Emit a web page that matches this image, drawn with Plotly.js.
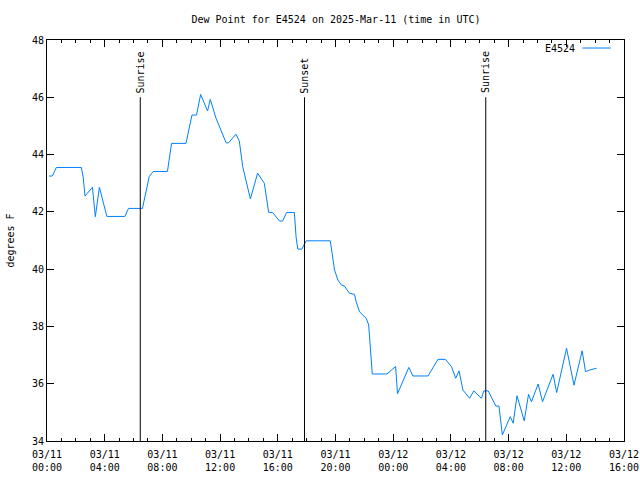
<!DOCTYPE html>
<html>
<head>
<meta charset="utf-8">
<script src="https://cdn.plot.ly/plotly-3.0.1.min.js"></script>
<style>html,body{margin:0;padding:0;background:#fff;}#chart{width:640px;height:480px;}</style>
</head>
<body>
<div id="chart"></div>
<script>
// ---- data ----
const times = [
 "2025-03-11 00:08","2025-03-11 00:22","2025-03-11 00:39","2025-03-11 02:23","2025-03-11 02:31",
 "2025-03-11 02:38","2025-03-11 02:48","2025-03-11 03:09","2025-03-11 03:21","2025-03-11 03:38",
 "2025-03-11 04:09","2025-03-11 05:24","2025-03-11 05:39","2025-03-11 06:37","2025-03-11 07:05",
 "2025-03-11 07:22","2025-03-11 08:21","2025-03-11 08:30","2025-03-11 08:38","2025-03-11 09:38",
 "2025-03-11 10:03","2025-03-11 10:22","2025-03-11 10:39","2025-03-11 11:08","2025-03-11 11:19",
 "2025-03-11 11:43","2025-03-11 12:04","2025-03-11 12:25","2025-03-11 12:35","2025-03-11 13:06",
 "2025-03-11 13:20","2025-03-11 13:34","2025-03-11 14:06","2025-03-11 14:36","2025-03-11 15:04",
 "2025-03-11 15:22","2025-03-11 15:38","2025-03-11 16:07","2025-03-11 16:20","2025-03-11 16:37",
 "2025-03-11 17:09","2025-03-11 17:16","2025-03-11 17:23","2025-03-11 17:40","2025-03-11 17:58",
 "2025-03-11 19:38","2025-03-11 19:46","2025-03-11 19:56","2025-03-11 20:10","2025-03-11 20:24",
 "2025-03-11 20:37","2025-03-11 20:58","2025-03-11 21:19","2025-03-11 21:26","2025-03-11 21:40",
 "2025-03-11 22:08","2025-03-11 22:18","2025-03-11 22:25","2025-03-11 22:33","2025-03-11 23:34",
 "2025-03-12 00:10","2025-03-12 00:18","2025-03-12 01:05","2025-03-12 01:22","2025-03-12 02:25",
 "2025-03-12 03:06","2025-03-12 03:37","2025-03-12 04:02","2025-03-12 04:20","2025-03-12 04:34",
 "2025-03-12 04:50","2025-03-12 05:18","2025-03-12 05:35","2025-03-12 06:07","2025-03-12 06:17",
 "2025-03-12 06:35","2025-03-12 07:07","2025-03-12 07:20","2025-03-12 07:34","2025-03-12 08:07",
 "2025-03-12 08:19","2025-03-12 08:35","2025-03-12 09:05","2025-03-12 09:23","2025-03-12 09:35",
 "2025-03-12 10:03","2025-03-12 10:21","2025-03-12 11:05","2025-03-12 11:20","2025-03-12 12:01",
 "2025-03-12 12:32","2025-03-12 13:06","2025-03-12 13:20","2025-03-12 13:38","2025-03-12 14:06"
];
const dewPoint = [
 43.25,43.25,43.55,43.55,43.18,
 42.55,42.65,42.86,41.83,42.86,
 41.84,41.84,42.12,42.12,43.23,
 43.41,43.41,44.04,44.39,44.39,
 45.38,45.38,46.10,45.52,45.93,
 45.27,44.86,44.41,44.41,44.71,
 44.47,43.58,42.45,43.35,43.00,
 41.98,41.98,41.68,41.68,41.98,
 41.98,41.13,40.70,40.70,40.99,
 40.99,40.55,39.97,39.62,39.45,
 39.41,39.16,39.12,38.86,38.51,
 38.28,38.05,37.29,36.34,36.34,
 36.60,35.65,36.57,36.27,36.27,
 36.85,36.85,36.60,36.19,36.45,
 35.78,35.49,35.75,35.49,35.75,
 35.75,35.22,35.22,34.21,34.85,
 34.62,35.58,34.70,35.63,35.37,
 35.99,35.37,36.33,35.69,37.24,
 35.95,37.15,36.42,36.48,36.54
];
const seriesName = "E4524";
const sunEventTimes = ["2025-03-11 06:28","2025-03-11 17:51","2025-03-12 06:25"];
const sunEventLabels = ["Sunrise","Sunset","Sunrise"];
const sunLineTop = 46;
const tickVals = ["2025-03-11 00:00","2025-03-11 04:00","2025-03-11 08:00","2025-03-11 12:00",
  "2025-03-11 16:00","2025-03-11 20:00","2025-03-12 00:00","2025-03-12 04:00","2025-03-12 08:00",
  "2025-03-12 12:00","2025-03-12 16:00"];
const tickText = ["03/11<br>00:00","03/11<br>04:00","03/11<br>08:00","03/11<br>12:00",
  "03/11<br>16:00","03/11<br>20:00","03/12<br>00:00","03/12<br>04:00","03/12<br>08:00",
  "03/12<br>12:00","03/12<br>16:00"];
const yTicks = [34,36,38,40,42,44,46,48];

// ---- chart ----
const FONT = "DejaVu Sans Mono, Liberation Mono, monospace";
const lineColor = "rgb(0,128,255)";

const trace = {
  x: times, y: dewPoint, type: "scatter", mode: "lines", name: seriesName,
  line: {color: lineColor, width: 1}, showlegend: false
};

const shapes = sunEventTimes.map(t => ({
  type: "line", xref: "x", yref: "y", x0: t, x1: t, y0: 34, y1: sunLineTop,
  line: {color: "#000", width: 1}
}));
// legend sample line
shapes.push({type: "line", xref: "paper", yref: "paper", x0: 0.928, x1: 0.977, y0: 0.98, y1: 0.98,
  line: {color: lineColor, width: 1}});

const annotations = sunEventTimes.map((t, i) => ({
  x: t, y: sunLineTop, xref: "x", yref: "y", text: sunEventLabels[i], showarrow: false,
  textangle: -90, xanchor: "center", yanchor: "bottom", yshift: 2,
  font: {family: FONT, size: 10, color: "#000"}
}));
annotations.push({x: 0.918, y: 0.98, xref: "paper", yref: "paper", text: seriesName, showarrow: false,
  xanchor: "right", yanchor: "middle", font: {family: FONT, size: 10, color: "#000"}});

const layout = {
  width: 640, height: 480,
  margin: {l: 47, r: 16, t: 40, b: 39},
  paper_bgcolor: "#fff", plot_bgcolor: "#fff",
  font: {family: FONT, size: 10, color: "#000"},
  title: {text: "Dew Point for E4524 on 2025-Mar-11 (time in UTC)", x: 0.525, xanchor: "center",
    y: 0.96, yanchor: "middle", font: {family: FONT, size: 10, color: "#000"}},
  xaxis: {
    type: "date", range: ["2025-03-11 00:00", "2025-03-12 16:00"],
    tickmode: "array", tickvals: tickVals, ticktext: tickText,
    ticks: "inside", ticklen: 7, tickcolor: "#000", tickwidth: 1,
    minor: {ticks: "inside", ticklen: 3, dtick: 3600000, tickcolor: "#000", showgrid: false},
    showline: true, linecolor: "#000", linewidth: 1, mirror: "ticks",
    showgrid: false, zeroline: false, tickangle: 0, ticklabelstandoff: 4,
    tickfont: {family: FONT, size: 10, color: "#000"}
  },
  yaxis: {
    range: [34, 48], tickmode: "array", tickvals: yTicks, ticktext: yTicks.map(String),
    ticks: "inside", ticklen: 7, tickcolor: "#000",
    showline: true, linecolor: "#000", linewidth: 1, mirror: "ticks",
    showgrid: false, zeroline: false,
    title: {text: "degrees F", font: {family: FONT, size: 10, color: "#000"}, standoff: 15},
    tickfont: {family: FONT, size: 10, color: "#000"}
  },
  shapes: shapes,
  annotations: annotations
};

Plotly.newPlot("chart", [trace], layout, {displayModeBar: false, staticPlot: true});
</script>
</body>
</html>
